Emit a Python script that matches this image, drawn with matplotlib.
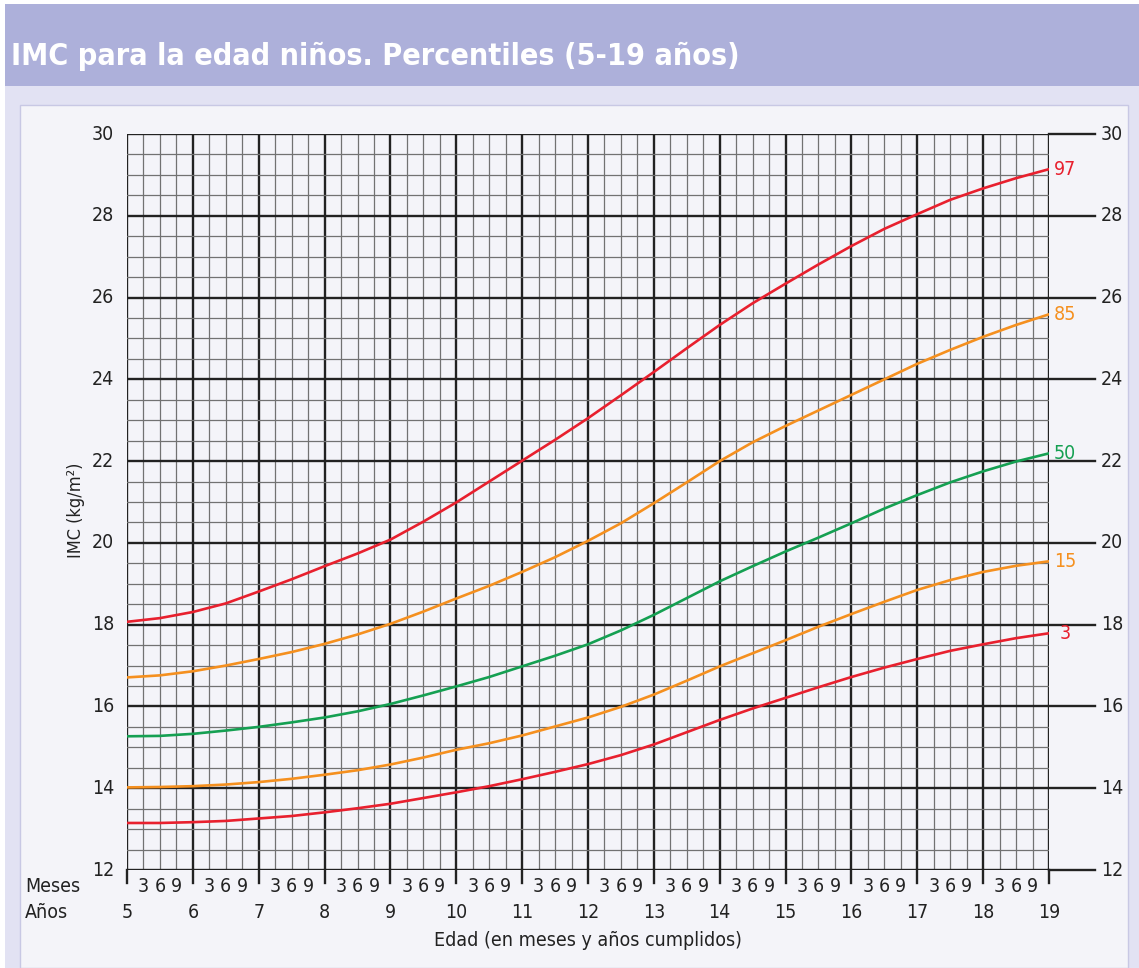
import numpy as np
import matplotlib.pyplot as plt
import matplotlib.transforms as mtransforms
from matplotlib.patches import Rectangle

plt.rcParams['font.family'] = ['DejaVu Sans Condensed', 'Liberation Sans Narrow', 'DejaVu Sans']
plt.rcParams['font.stretch'] = 'condensed'

# edad en años y percentiles de IMC (kg/m2)
edad = [5, 5.5, 6, 6.5, 7, 7.5, 8, 8.5, 9, 9.5, 10, 10.5, 11, 11.5, 12,
        12.5, 13, 13.5, 14, 14.5, 15, 15.5, 16, 16.5, 17, 17.5, 18, 18.5, 19]
p3 = [13.15, 13.15, 13.17, 13.20, 13.26, 13.32, 13.41, 13.51, 13.62, 13.76, 13.90, 14.05, 14.22, 14.40, 14.59,
      14.81, 15.07, 15.37, 15.67, 15.95, 16.21, 16.47, 16.72, 16.95, 17.16, 17.36, 17.52, 17.67, 17.79]
p15 = [14.02, 14.03, 14.05, 14.09, 14.15, 14.23, 14.33, 14.44, 14.58, 14.75, 14.94, 15.10, 15.29, 15.51, 15.73,
       15.99, 16.29, 16.63, 16.98, 17.30, 17.62, 17.95, 18.26, 18.56, 18.85, 19.09, 19.29, 19.44, 19.55]
p50 = [15.27, 15.28, 15.33, 15.41, 15.50, 15.61, 15.73, 15.88, 16.06, 16.27, 16.49, 16.72, 16.98, 17.24, 17.52,
       17.86, 18.24, 18.65, 19.06, 19.43, 19.79, 20.13, 20.48, 20.84, 21.17, 21.48, 21.75, 21.99, 22.19]
p85 = [16.71, 16.76, 16.86, 17.00, 17.16, 17.33, 17.53, 17.76, 18.02, 18.32, 18.64, 18.95, 19.29, 19.65, 20.05,
       20.48, 20.97, 21.48, 22.00, 22.46, 22.86, 23.24, 23.62, 24.00, 24.38, 24.72, 25.04, 25.33, 25.59]
p97 = [18.07, 18.16, 18.31, 18.52, 18.81, 19.11, 19.43, 19.74, 20.08, 20.52, 20.99, 21.50, 22.01, 22.52, 23.05,
       23.61, 24.18, 24.76, 25.33, 25.86, 26.34, 26.81, 27.26, 27.68, 28.04, 28.39, 28.67, 28.92, 29.14]
curvas = [(p97, '97', '#e8202e'), (p85, '85', '#f5901f'), (p50, '50', '#15a052'),
          (p15, '15', '#f5901f'), (p3, '3', '#e8202e')]
anios = list(range(5, 20))
meses = ['3', '6', '9']
yticks = list(range(12, 31, 2))

W, H = 1139, 968
fig = plt.figure(figsize=(W / 100, H / 100), dpi=100, facecolor='white')

# fondo: banda del titulo, marco y panel
fig.patches.append(Rectangle((5 / W, 0), 1 - 5 / W, 1 - 86 / H, transform=fig.transFigure,
                             facecolor='#e2e2f3', edgecolor='none', zorder=-3))
fig.patches.append(Rectangle((5 / W, 1 - 86 / H), 1 - 5 / W, 82 / H, transform=fig.transFigure,
                             facecolor='#adb0da', edgecolor='none', zorder=-3))
fig.patches.append(Rectangle((20 / W, 0), 1108 / W, 1 - 105 / H, transform=fig.transFigure,
                             facecolor='#f4f4f9', edgecolor='#c8c8e4', lw=1, zorder=-2))
titulo = fig.text(11 / W, 1 - 56 / H, 'IMC para la edad niños. Percentiles (5-19 años)', color='white',
                  fontsize=30, fontweight='bold', va='center', ha='left')
# ajustar el tamaño del titulo al ancho del original
r = fig.canvas.get_renderer()
wt = titulo.get_window_extent(r).width
titulo.set_fontsize(min(30, 30 * 730 / wt))

ax = fig.add_axes([127 / W, 1 - 870 / H, 922 / W, 736 / H])
ax.set_facecolor('#f4f4f9')
ax.set_xlim(5, 19)
ax.set_ylim(12, 30)

# cuadricula
for x in np.arange(5, 19.01, 0.25):
    major = abs(x - round(x)) < 1e-9
    ax.axvline(x, color='#222222' if major else '#727272', lw=1.7 if major else 0.9, zorder=1)
for y in np.arange(12, 30.01, 0.5):
    major = abs(y / 2 - round(y / 2)) < 1e-9
    ax.axhline(y, color='#222222' if major else '#727272', lw=1.7 if major else 0.9, zorder=1)
for y in yticks:
    ax.plot([19, 19.70], [y, y], color='#222222', lw=1.7, clip_on=False, zorder=1)
for x in anios:
    ax.plot([x, x], [12, 11.68], color='#222222', lw=1.7, clip_on=False, zorder=1)
for s in ax.spines.values():
    s.set_visible(False)
ax.set_xticks([])
ax.set_yticks([])

# curvas de percentiles
for vals, lab, col in curvas:
    ax.plot(edad, vals, color=col, lw=1.9, solid_joinstyle='round', solid_capstyle='round', zorder=3)
    ax.text(19.24, vals[-1], lab, color=col, fontsize=14, ha='center', va='center')

# etiquetas de ejes
fs = 14
ty = mtransforms.blended_transform_factory(fig.transFigure, ax.transData)
for y in yticks:
    ax.text(114 / W, y, str(y), transform=ty, ha='right', va='center', fontsize=fs, color='#222222')
    ax.text(1101 / W, y, str(y), transform=ty, ha='left', va='center', fontsize=fs, color='#222222')
tx = mtransforms.blended_transform_factory(ax.transData, fig.transFigure)
for a in anios:
    ax.text(a, 1 - 912 / H, str(a), transform=tx, ha='center', va='center', fontsize=fs, color='#222222')
    if a < 19:
        for i, m in enumerate(meses):
            ax.text(a + 0.25 * (i + 1), 1 - 887 / H, m, transform=tx, ha='center', va='center',
                    fontsize=fs, color='#222222')
fig.text(25 / W, 1 - 887 / H, 'Meses', ha='left', va='center', fontsize=fs, color='#222222')
fig.text(25 / W, 1 - 912 / H, 'Años', ha='left', va='center', fontsize=fs, color='#222222')
fig.text(588 / W, 1 - 940 / H, 'Edad (en meses y años cumplidos)', ha='center', va='center',
         fontsize=fs, color='#222222')
fig.text(76 / W, 1 - 510 / H, 'IMC (kg/m²)', rotation=90, ha='center', va='center',
         fontsize=13, color='#222222')

fig.savefig('out.png', dpi=100, facecolor='white')
